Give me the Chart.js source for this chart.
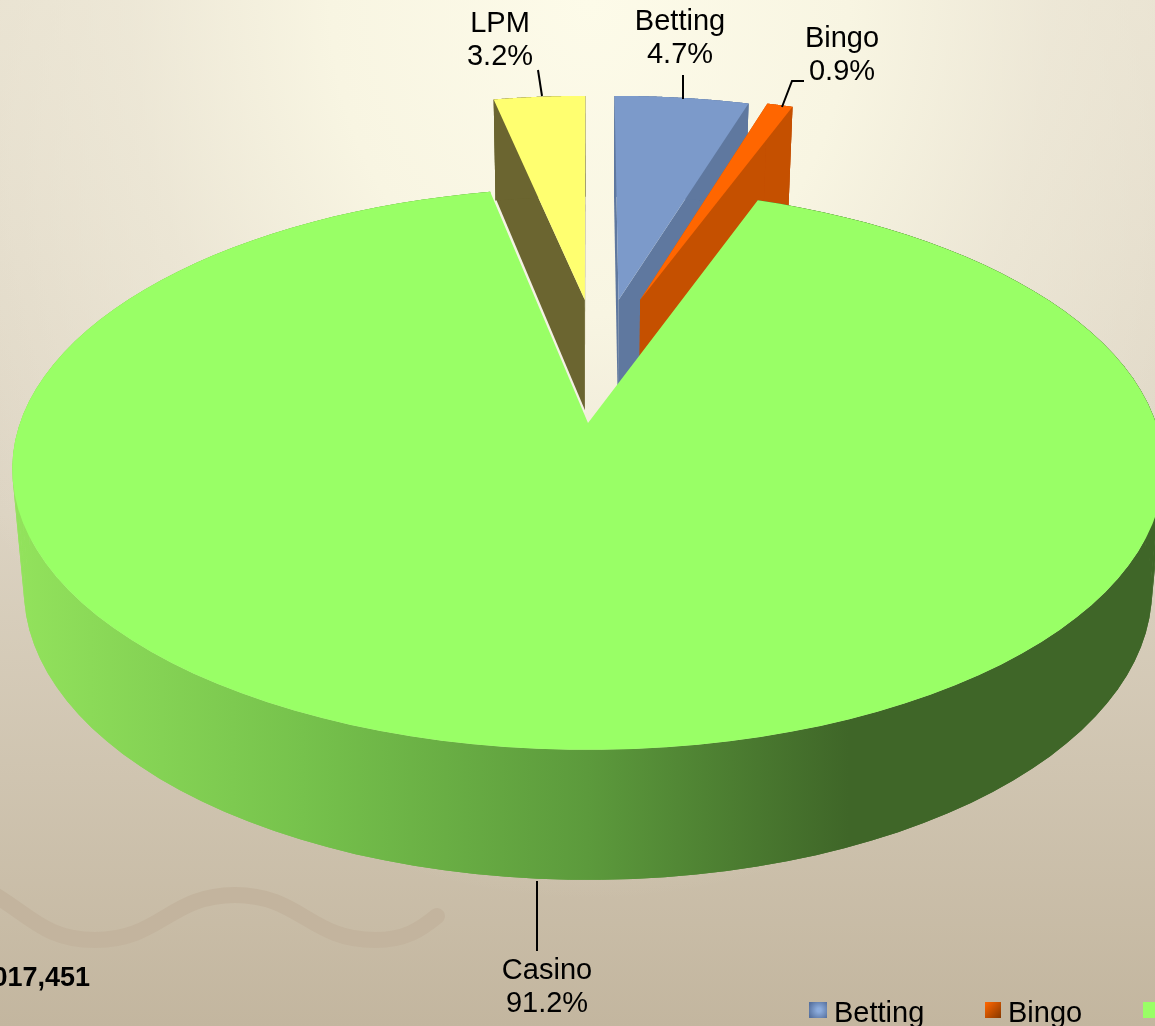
<!DOCTYPE html>
<html>
<head>
<meta charset="utf-8">
<title>Share by product</title>
<script src="https://cdn.jsdelivr.net/npm/chart.js@4/dist/chart.umd.js"></script>
<style>
html, body { margin: 0; padding: 0; width: 1155px; height: 1026px; overflow: hidden; }
body { background:
  radial-gradient(ellipse 740px 900px at 590px 0, #fdfbe9 0%, #f8f5e2 35%, rgba(240,235,218,.7) 62%, rgba(225,216,198,0) 100%),
  linear-gradient(#e6dfce 0%, #dcd3c2 50%, #c3b69f 100%); }
canvas { display: block; }
</style>
</head>
<body>
<canvas id="shareChart" width="1155" height="1026"></canvas>
<script>
var categories = ["Betting", "Bingo", "Casino", "LPM"];
var shareValues = [4.7, 0.9, 91.2, 3.2];
var topColors = ["#7c9aca", "#ff6600", "#99ff66", "#ffff70"];
var wallColors = ["#5f789f", "#c55000", "#3f6628", "#6b6530"];
var totalLabel = "017,451";

// the 3d disc, fitted to the picture
var CX = 588, CY = 423, RX = 568, RY = 273.6, K = 0.163, NARROW = 0.98;
var explodeU = [0.058, 0.099, 0, -0.006];
var explodeV = [-0.485, -0.485, 0, -0.485];
var drawOrder = [3, 0, 1, 2];
var FONT = '29px "Liberation Sans", Arial, sans-serif';

function proj(u, v, low) {
    var w = 1 - K * v;
    var x = CX + RX * u / w;
    var y = CY + RY * v / w;
    if (low) {
        x = CX + (x - CX) * NARROW;
        y = y + 130 - 72 * (w - 0.837);
    }
    return [x, y];
}

function rimPoint(i, theta, low) {
    return proj(explodeU[i] + Math.sin(theta), explodeV[i] - Math.cos(theta), low);
}

function poly(ctx, pts, fill) {
    ctx.beginPath();
    for (var i = 0; i < pts.length; i++) {
        if (i == 0) ctx.moveTo(pts[i][0], pts[i][1]);
        else ctx.lineTo(pts[i][0], pts[i][1]);
    }
    ctx.closePath();
    ctx.fillStyle = fill;
    ctx.fill();
}

function drawSlice(ctx, i, el) {
    var a0 = el.startAngle + Math.PI / 2;
    var a1 = el.endAngle + Math.PI / 2;
    var steps = 120;
    var top = [], low = [], t;
    for (var s = 0; s <= steps; s++) {
        t = a0 + (a1 - a0) * s / steps;
        top.push(rimPoint(i, t, false));
        low.push(rimPoint(i, t, true));
    }
    var apex = proj(explodeU[i], explodeV[i], false);
    var apexLow = proj(explodeU[i], explodeV[i], true);

    var wall = wallColors[i];
    if (categories[i] == "Casino") {
        wall = ctx.createLinearGradient(20, 0, 1155, 0);
        wall.addColorStop(0, "#92e25c");
        wall.addColorStop(0.25, "#76c24c");
        wall.addColorStop(0.5, "#5c9a3c");
        wall.addColorStop(0.73, "#3f6628");
        wall.addColorStop(1, "#3f6628");
    } else {
        // cut faces, casino has none showing
        poly(ctx, [apex, top[0], low[0], apexLow], wall);
        poly(ctx, [apex, top[steps], low[steps], apexLow], wall);
    }
    // strips fill the silhouette where the rim turns away
    for (var q = 0; q < steps; q++) {
        poly(ctx, [top[q], top[q + 1], low[q + 1], low[q]], wall);
    }
    poly(ctx, top.concat(low.slice().reverse()), wall);
    if (categories[i] == "LPM") {
        ctx.strokeStyle = "#f4f1e4";
        ctx.lineWidth = 2;
        ctx.beginPath();
        ctx.moveTo(low[0][0], low[0][1]);
        ctx.lineTo(apexLow[0], apexLow[1]);
        ctx.stroke();
    }
    poly(ctx, [apex].concat(top), topColors[i]);
}

var pie3d = {
    id: "pie3d",
    beforeDatasetsDraw: function(chart) {
        var ctx = chart.ctx;
        var arcs = chart.getDatasetMeta(0).data;
        ctx.save();
        for (var n = 0; n < drawOrder.length; n++) {
            drawSlice(ctx, drawOrder[n], arcs[drawOrder[n]]);
        }
        ctx.restore();
        return false;
    }
};

// label text position, then the leader line under it
var labelLayout = [
    { x: 680, y: 31, line: [[683, 75], [683, 99]] },
    { x: 842, y: 48, line: [[804, 81], [792, 81], [782, 107]] },
    { x: 547, y: 980, line: [[537, 881], [537, 951]] },
    { x: 500, y: 33, line: [[538, 70], [542, 96]] }
];

var legendLayout = [
    { box: 810, text: 834 },
    { box: 985, text: 1008 },
    { box: 1143, text: 1166 },
    { box: 1290, text: 1313 }
];

var annotations = {
    id: "annotations",
    beforeDraw: function(chart) {
        var ctx = chart.ctx;
        ctx.save();
        ctx.strokeStyle = "#c3b49e";
        ctx.lineWidth = 16;
        ctx.lineCap = "round";
        ctx.beginPath();
        ctx.moveTo(-10, 892);
        ctx.bezierCurveTo(30, 915, 45, 940, 95, 940);
        ctx.bezierCurveTo(160, 940, 170, 895, 235, 895);
        ctx.bezierCurveTo(300, 895, 310, 940, 375, 940);
        ctx.bezierCurveTo(405, 940, 420, 930, 437, 916);
        ctx.stroke();
        ctx.restore();
    },
    afterDraw: function(chart) {
        var ctx = chart.ctx;
        ctx.save();
        ctx.fillStyle = "#000";
        ctx.strokeStyle = "#000";
        ctx.lineWidth = 2;
        ctx.font = FONT;
        ctx.textAlign = "center";
        ctx.textBaseline = "middle";
        categories.forEach(function(name, i) {
            var lay = labelLayout[i];
            ctx.fillText(name, lay.x, lay.y - 9);
            ctx.fillText(shareValues[i].toFixed(1) + "%", lay.x, lay.y + 24);
            ctx.beginPath();
            lay.line.forEach(function(p, k) {
                if (k == 0) ctx.moveTo(p[0], p[1]);
                else ctx.lineTo(p[0], p[1]);
            });
            ctx.stroke();
        });
        ctx.textBaseline = "alphabetic";
        ctx.textAlign = "left";
        categories.forEach(function(name, i) {
            var lay = legendLayout[i];
            var g;
            if (name == "Betting") {
                g = ctx.createRadialGradient(lay.box + 9, 1010, 2, lay.box + 9, 1010, 11);
                g.addColorStop(0, "#8cacdc");
                g.addColorStop(1, "#56719f");
            } else if (name == "Bingo") {
                g = ctx.createLinearGradient(lay.box, 1003, lay.box + 16, 1018);
                g.addColorStop(0, "#ff6600");
                g.addColorStop(1, "#863800");
            } else {
                g = topColors[i];
            }
            ctx.fillStyle = g;
            ctx.fillRect(lay.box - (name == "Betting" ? 1 : 0), 1002, name == "Betting" ? 18 : 16, 16);
            ctx.fillStyle = "#000";
            ctx.fillText(name, lay.text, 1022);
        });
        ctx.font = 'bold 27px "Liberation Sans", Arial, sans-serif';
        ctx.textAlign = "right";
        ctx.fillText(totalLabel, 90, 986);
        ctx.restore();
    }
};

var shareChart = new Chart(document.getElementById("shareChart"), {
    type: "pie",
    data: {
        labels: categories,
        datasets: [{ data: shareValues, backgroundColor: topColors, borderWidth: 0 }]
    },
    options: {
        responsive: false,
        animation: false,
        plugins: { legend: { display: false }, tooltip: { enabled: false } }
    },
    plugins: [annotations, pie3d]
});
</script>
</body>
</html>
